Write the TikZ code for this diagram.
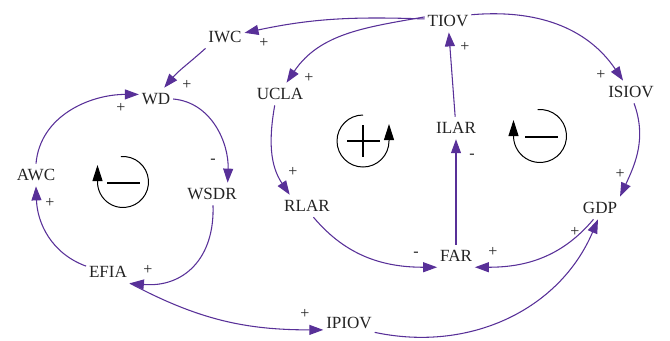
\documentclass[tikz,border=0pt]{standalone}
\usepackage{fontspec}
\setmainfont{Liberation Serif}
\usetikzlibrary{arrows.meta}
\definecolor{linkc}{RGB}{88,48,152}
\definecolor{txtc}{RGB}{35,35,35}
\begin{document}
\begin{tikzpicture}[x=0.75pt,y=0.75pt,
  var/.style={font=\fontsize{12.8}{15}\selectfont, text=txtc, inner xsep=2pt, inner ysep=4pt},
  pol/.style={font=\fontsize{12}{13}\selectfont, text=txtc, inner sep=0pt},
  link/.style={draw=linkc, line width=0.8pt, -{Triangle[length=10.5pt,width=7.5pt]}},
  loopc/.style={draw=black, line width=0.75pt, -{Triangle[length=12pt,width=7.5pt]}},
  loopsign/.style={draw=black, line width=2.1pt}]
\useasboundingbox (0,0) rectangle (670,-340);

% variables
\node[var] (TIOV)  at (448,-21)  {TIOV};
\node[var] (IWC)   at (225,-37)  {IWC};
\node[var] (WD)    at (156,-99)  {WD};
\node[var] (UCLA)  at (280,-94)  {UCLA};
\node[var] (ISIOV) at (631,-92)  {ISIOV};
\node[var] (ILAR)  at (456,-128) {ILAR};
\node[var] (AWC)   at (36,-175)  {AWC};
\node[var] (WSDR)  at (212,-194) {WSDR};
\node[var] (RLAR)  at (307,-206) {RLAR};
\node[var] (GDP)   at (600,-208) {GDP};
\node[var] (FAR)   at (456,-256) {FAR};
\node[var] (EFIA)  at (108,-272) {EFIA};
\node[var] (IPIOV) at (349,-323) {IPIOV};

% links
\draw[link] (TIOV.175) to[out=178,in=12] (IWC);
\draw[link] (TIOV.170) to[out=190,in=56] (UCLA.60);
\draw[link] (TIOV.15) to[out=5,in=124] (ISIOV.125);
\draw[link] (ILAR) -- (TIOV);
\draw[link] (IWC.south west) to[out=222,in=50] (WD.54);
\draw[link] (WD.east) to[out=-5,in=88] (WSDR.36);
\draw[link] (AWC.north) to[out=85,in=180] (WD.165);
\draw[link] (EFIA.165) to[out=160,in=-88] (AWC.south);
\draw[link] (WSDR.-85) to[out=-88,in=-5,looseness=1.2] (EFIA.south east);
\draw[link] (EFIA.south east) to[out=-28,in=180] (IPIOV.195);
\draw[link] (IPIOV.-20) to[out=-12,in=-113] (GDP.-100);
\draw[link] (ISIOV.-75) to[out=-70,in=65] (GDP.north east);
\draw[link] (GDP.-120) to[out=-130,in=0] (FAR.south east);
\draw[link] (UCLA.-115) to[out=-100,in=124] (RLAR.147);
\draw[link] (RLAR.-60) to[out=-50,in=180] (FAR.south west);
\draw[link] (FAR) -- (ILAR);

% polarities
\node[pol] (p1)  at (264,-43)  {+};
\node[pol] (p2)  at (187,-85)  {+};
\node[pol] (p3)  at (121,-108) {+};
\node[pol] (p4)  at (309,-78)  {+};
\node[pol] (p5)  at (213,-161) {-};
\node[pol] (p6)  at (50,-203)  {+};
\node[pol] (p7)  at (148,-270) {+};
\node[pol] (p8)  at (293,-172) {+};
\node[pol] (p9)  at (305,-314) {+};
\node[pol] (p10) at (465,-47)  {+};
\node[pol] (p11) at (601,-75)  {+};
\node[pol] (p12) at (472,-156) {-};
\node[pol] (p13) at (620,-174) {+};
\node[pol] (p14) at (575,-232) {+};
\node[pol] (p15) at (493,-252) {+};
\node[pol] (p16) at (416,-254) {-};

% loop markers
\draw[loopc] (123,-182) ++(95:25.5) arc[start angle=95,end angle=-180,radius=25.5] -- ++(0,17);
\draw[loopsign] (107,-183) -- (140,-183);
\draw[loopc] (363,-141) ++(90:26) arc[start angle=90,end angle=360,radius=26] -- ++(0,17);
\draw[loopsign] (347,-141) -- (380,-141) (363,-125) -- (363,-157);
\draw[loopc] (540,-136) ++(95:26.5) arc[start angle=95,end angle=-180,radius=26.5] -- ++(0,16);
\draw[loopsign] (525,-137) -- (558,-137);
\end{tikzpicture}
\end{document}
